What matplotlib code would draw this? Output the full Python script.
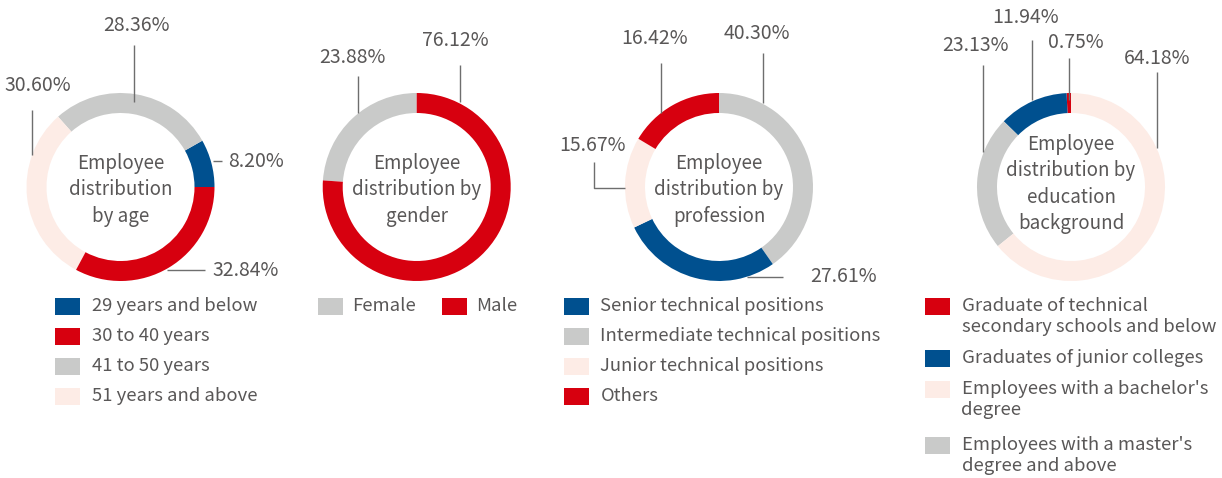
import matplotlib
matplotlib.use("Agg")
import matplotlib.pyplot as plt
from matplotlib.patches import Rectangle

plt.rcParams['font.family'] = ['Noto Sans CJK SC', 'DejaVu Sans']

W, H = 1222, 478
BLUE, RED, GRAY, PINK = '#00508f', '#d7000f', '#c9cac9', '#fdece6'
TXT = '#595757'

# ---------------- data ----------------
age_labels = ['29 years and below', '30 to 40 years', '41 to 50 years', '51 years and above']
age_values = [8.20, 32.84, 28.36, 30.60]
age_colors = [BLUE, RED, GRAY, PINK]

gender_labels = ['Female', 'Male']
gender_values = [23.88, 76.12]
gender_colors = [GRAY, RED]

prof_labels = ['Senior technical positions', 'Intermediate technical positions',
               'Junior technical positions', 'Others']
prof_values = [27.61, 40.30, 15.67, 16.42]
prof_colors = [BLUE, GRAY, PINK, RED]

edu_labels = ['Graduate of technical\nsecondary schools and below',
              'Graduates of junior colleges',
              "Employees with a bachelor's\ndegree",
              "Employees with a master's\ndegree and above"]
edu_values = [0.75, 11.94, 64.18, 23.13]
edu_colors = [RED, BLUE, PINK, GRAY]

# ---------------- layout ----------------
fig = plt.figure(figsize=(W / 100, H / 100), dpi=100)
ax = fig.add_axes([0, 0, 1, 1])

R, RING = 94, 20
FS_LBL = 14
FS_CTR = 13.5
FS_LEG = 13.3


def P(x, y):
    return x, H - y


def donut(cx, cy, values, colors, order, start, ccw, title_lines, ty):
    vals = [values[i] for i in order]
    cols = [colors[i] for i in order]
    ax.pie(vals, colors=cols, startangle=start, counterclock=ccw,
           center=P(cx, cy), radius=R,
           wedgeprops=dict(width=RING, linewidth=0))
    n = len(title_lines)
    for i, t in enumerate(title_lines):
        yy = ty + (i - (n - 1) / 2) * 26.5
        ax.text(*P(cx, yy), t, ha='center', va='center', fontsize=FS_CTR, color=TXT)


def label(text, tx, ty, pts, ha='center'):
    xs = [p[0] for p in pts]
    ys = [H - p[1] for p in pts]
    ax.plot(xs, ys, color='#6e6e6e', lw=1.0, solid_capstyle='butt')
    ax.text(*P(tx, ty), text, ha=ha, va='center', fontsize=FS_LBL, color=TXT)


def legend(x0, y0, labels, colors, dys):
    y = y0
    for lab, col, dy in zip(labels, colors, dys):
        ax.add_patch(Rectangle(P(x0, y + 8.5), 25, 17, facecolor=col, edgecolor='none'))
        lines = lab.split('\n')
        for j, ln in enumerate(lines):
            ax.text(*P(x0 + 36.5, y + j * 21), ln, ha='left', va='center',
                    fontsize=FS_LEG, color=TXT)
        y += dy


# donut 1: age (counter-clockwise from 3 o'clock: blue, gray, pink, red)
donut(120.5, 187, age_values, age_colors, [0, 2, 3, 1], 0, True,
      ['Employee', 'distribution', 'by age'], 189.5)
label(f'{age_values[2]:.2f}%', 136, 25, [(134, 102), (134, 45)])
label(f'{age_values[3]:.2f}%', 38, 85, [(32, 155), (32, 110)])
label(f'{age_values[0]:.2f}%', 228, 161, [(213, 161), (222, 161)], ha='left')
label(f'{age_values[1]:.2f}%', 212, 271, [(167, 270), (205, 270)], ha='left')

# donut 2: gender
donut(416.7, 187, gender_values, gender_colors, [0, 1], 90, True,
      ['Employee', 'distribution by', 'gender'], 189.5)
label(f'{gender_values[1]:.2f}%', 455, 40, [(460, 102), (460, 65)])
label(f'{gender_values[0]:.2f}%', 352.5, 57, [(358, 113), (358, 76)])

# donut 3: profession (clockwise from 12: gray, blue, pink, red)
donut(719, 187, prof_values, prof_colors, [1, 0, 2, 3], 90, False,
      ['Employee', 'distribution by', 'profession'], 189.5)
label(f'{prof_values[1]:.2f}%', 757, 33, [(762.7, 103), (762.7, 53)])
label(f'{prof_values[3]:.2f}%', 655, 38, [(660.7, 113), (660.7, 63)])
label(f'{prof_values[2]:.2f}%', 592.5, 145, [(625, 188), (594, 188), (594, 162)])
label(f'{prof_values[0]:.2f}%', 844, 277, [(747, 277), (783, 277)])

# donut 4: education (counter-clockwise from 12: red, blue, gray, pink)
donut(1071, 187, edu_values, edu_colors, [0, 1, 3, 2], 90, True,
      ['Employee', 'distribution by', 'education', 'background'], 184)
label(f'{edu_values[2]:.2f}%', 1156.7, 58, [(1156.7, 148), (1156.7, 72)])
label(f'{edu_values[0]:.2f}%', 1076, 42, [(1069, 100), (1069, 58)])
label(f'{edu_values[1]:.2f}%', 1026, 17, [(1032.3, 100), (1032.3, 40)])
label(f'{edu_values[3]:.2f}%', 975, 45, [(982.7, 152), (982.7, 65)])

# legends
legend(55, 306, age_labels, age_colors, [30, 30, 30, 30])
ax.add_patch(Rectangle(P(318, 314.5), 25, 17, facecolor=gender_colors[0], edgecolor='none'))
ax.text(*P(351.7, 306), gender_labels[0], ha='left', va='center', fontsize=FS_LEG, color=TXT)
ax.add_patch(Rectangle(P(442, 314.5), 25, 17, facecolor=gender_colors[1], edgecolor='none'))
ax.text(*P(476, 306), gender_labels[1], ha='left', va='center', fontsize=FS_LEG, color=TXT)
legend(564, 306, prof_labels, prof_colors, [30, 30, 30, 30])
legend(925, 306, edu_labels, edu_colors, [52, 31, 56, 0])

ax.set_xlim(0, W)
ax.set_ylim(0, H)
ax.set_aspect('equal')
ax.axis('off')
fig.savefig('out.png', dpi=100)
